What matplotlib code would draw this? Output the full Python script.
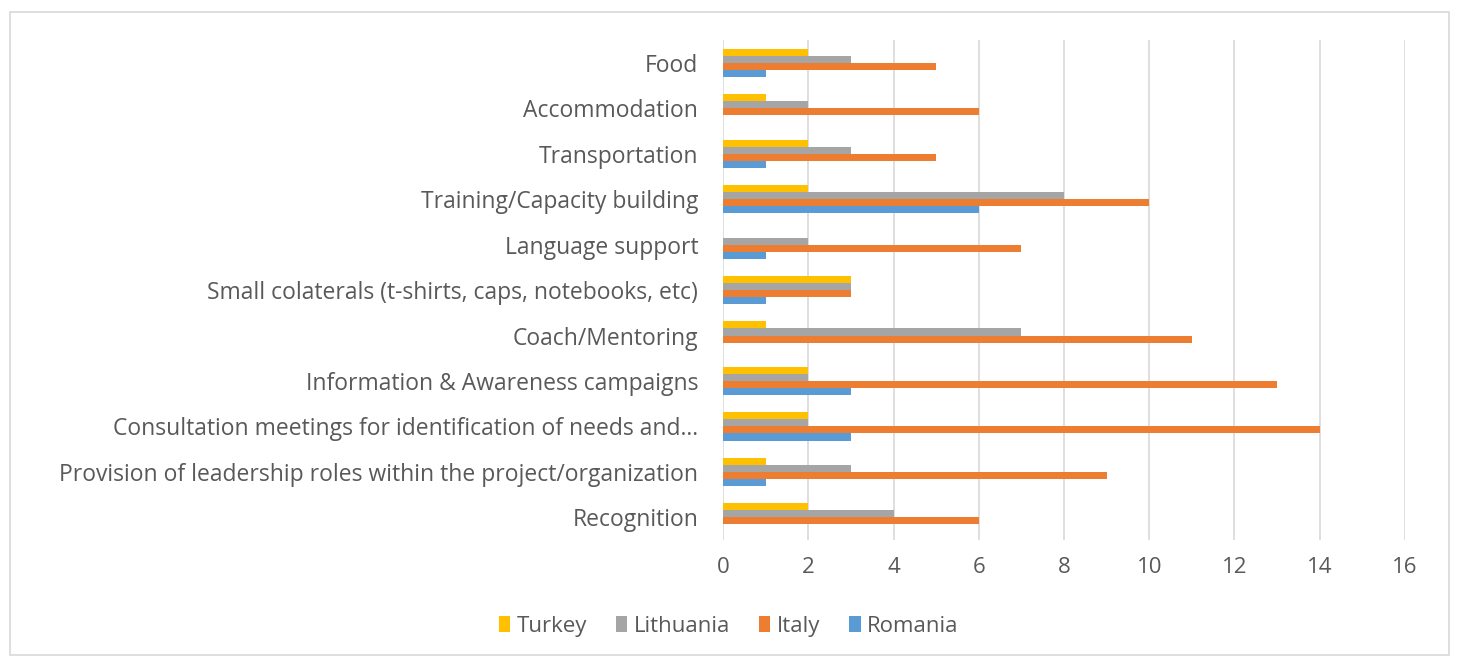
import numpy as np
import matplotlib.pyplot as plt
from matplotlib.patches import Rectangle

categories = ["Recognition",
              "Provision of leadership roles within the project/organization",
              "Consultation meetings for identification of needs and\u2026",
              "Information & Awareness campaigns",
              "Coach/Mentoring",
              "Small colaterals (t-shirts, caps, notebooks, etc)",
              "Language support",
              "Training/Capacity building",
              "Transportation",
              "Accommodation",
              "Food"]

romania = [0, 1, 3, 3, 0, 1, 1, 6, 1, 0, 1]
italy = [6, 9, 14, 13, 11, 3, 7, 10, 5, 6, 5]
lithuania = [4, 3, 2, 2, 7, 3, 2, 8, 3, 2, 3]
turkey = [2, 1, 2, 2, 1, 3, 0, 2, 2, 1, 2]

series = [("Romania", romania, "#5B9BD5"),
          ("Italy", italy, "#ED7D31"),
          ("Lithuania", lithuania, "#A5A5A5"),
          ("Turkey", turkey, "#FFC000")]

plt.rcParams['font.family'] = ['Open Sans', 'DejaVu Sans']

fig = plt.figure(figsize=(14.58, 6.66), dpi=100)
ax = fig.add_axes([0.496, 0.189, 0.4676, 0.751])

y = np.arange(len(categories))
h = 0.155
for i, (name, vals, col) in enumerate(series):
    ax.barh(y + (i - 1.5) * h, vals, height=h, color=col, label=name, zorder=3)

ax.set_xlim(0, 16)
ax.set_ylim(-0.5, len(categories) - 0.5)
ax.set_xticks(range(0, 17, 2))
ax.set_yticks(y)
ax.set_yticklabels(categories)
ax.tick_params(length=0, labelcolor="#595959")
ax.tick_params(axis='x', pad=12, labelsize=16)
ax.tick_params(axis='y', pad=18, labelsize=16.5)
ax.grid(axis='x', color="#D9D9D9", linewidth=1.2, zorder=0)
for s in ax.spines.values():
    s.set_visible(False)

handles, labels = ax.get_legend_handles_labels()
leg = fig.legend(handles[::-1], labels[::-1], loc='center', bbox_to_anchor=(0.5, 0.06),
                 ncol=4, frameon=False, fontsize=16, handlelength=0.5, handleheight=0.7,
                 columnspacing=1.3, handletextpad=0.3)
for t in leg.get_texts():
    t.set_color("#595959")

fig.patches.append(Rectangle((0.007, 0.017), 0.987, 0.965, transform=fig.transFigure,
                             fill=False, edgecolor="#D9D9D9", linewidth=1.2))

plt.savefig("out.png")
